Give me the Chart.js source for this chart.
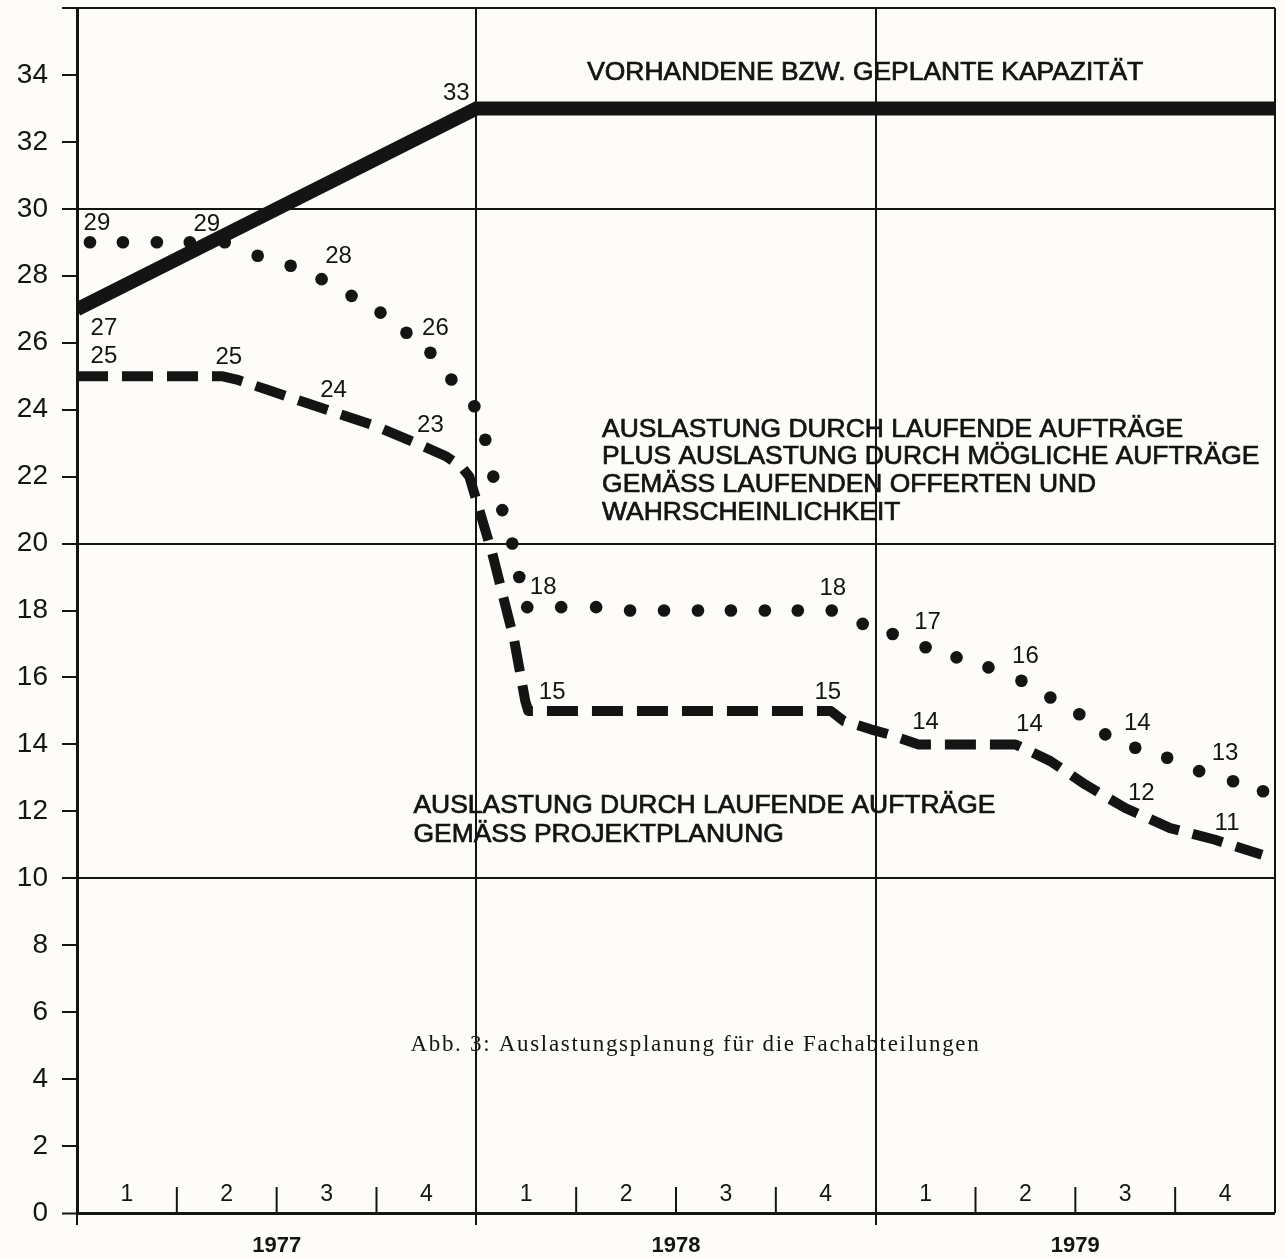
<!DOCTYPE html>
<html>
<head>
<meta charset="utf-8">
<script src="https://cdn.jsdelivr.net/npm/chart.js@4.4.1/dist/chart.umd.min.js"></script>
<style>
  html, body { margin: 0; padding: 0; background: #fdfcf9; }
  canvas { display: block; }
</style>
</head>
<body>
<canvas id="myChart" width="1286" height="1258"></canvas>
<script>
// x = quarters counted from the start of 1977 (0 .. 12)
var quarterLabels = ['1', '2', '3', '4', '1', '2', '3', '4', '1', '2', '3', '4'];
var yearLabels = ['1977', '1978', '1979'];

// vorhandene bzw. geplante Kapazitaet
var capacityX = [0, 4, 12];
var capacityY = [27, 33, 33];

// laufende Auftraege gemaess Projektplanung (gestrichelt)
var plannedX = [0, 1.45, 1.6, 1.9, 2.2, 2.6, 3.0, 3.4, 3.7, 3.85, 3.93, 4.16, 4.38, 4.49, 4.52,
                7.55, 7.68, 7.95, 8.13, 8.43, 9.4, 9.75, 10.1, 10.5, 10.95, 11.4, 11.87];
var plannedY = [25, 25, 24.9, 24.6, 24.3, 23.9, 23.5, 23.0, 22.6, 22.3, 22.0, 19.7, 17.1, 15.3, 15.0,
                15.0, 14.7, 14.45, 14.3, 14.0, 14.0, 13.5, 12.8, 12.1, 11.5, 11.15, 10.7];

// plus moegliche Auftraege (gepunktet), one value per printed dot
var offersX = [0.13, 0.46, 0.80, 1.13, 1.48, 1.81, 2.14, 2.45, 2.75, 3.04, 3.30, 3.54, 3.75, 3.98,
               4.09, 4.17, 4.26, 4.36, 4.43, 4.51, 4.85, 5.20, 5.54, 5.88, 6.22, 6.55, 6.89, 7.22,
               7.56, 7.87, 8.17, 8.50, 8.81, 9.13, 9.46, 9.75, 10.04, 10.30, 10.60, 10.92, 11.24,
               11.58, 11.88];
var offersY = [29, 29, 29, 29, 29, 28.6, 28.3, 27.9, 27.4, 26.9, 26.3, 25.7, 24.9, 24.1,
               23.1, 22.0, 21.0, 20.0, 19.0, 18.1, 18.1, 18.1, 18.0, 18.0, 18.0, 18.0, 18.0, 18.0,
               18.0, 17.6, 17.3, 16.9, 16.6, 16.3, 15.9, 15.4, 14.9, 14.3, 13.9, 13.6, 13.2,
               12.9, 12.6];

// printed numbers next to the curves
var numberText = ['33', '29', '29', '28', '26', '27', '25', '25', '24', '23',
                  '18', '18', '17', '16', '14', '13', '15', '15', '14', '14', '12', '11'];
var numberX = [3.80, 0.20, 1.30, 2.62, 3.59, 0.27, 0.27, 1.52, 2.57, 3.54,
               4.67, 7.57, 8.52, 9.50, 10.62, 11.50, 4.76, 7.52, 8.50, 9.54, 10.66, 11.52];
var numberY = [33.46, 29.58, 29.55, 28.59, 26.44, 26.44, 25.58, 25.55, 24.59, 23.54,
               18.70, 18.67, 17.66, 16.64, 14.64, 13.74, 15.54, 15.54, 14.67, 14.61, 12.55, 11.65];

// text blocks: lines, left edge, right edge of first line, centre line heights
var textBlocks = [
  { lines: ['VORHANDENE BZW. GEPLANTE KAPAZITÄT'], x0: 5.11, x1: 10.68, ys: [34.06] },
  { lines: ['AUSLASTUNG DURCH LAUFENDE AUFTRÄGE', 'PLUS AUSLASTUNG DURCH MÖGLICHE AUFTRÄGE',
            'GEMÄSS LAUFENDEN OFFERTEN UND', 'WAHRSCHEINLICHKEIT'],
    x0: 5.26, x1: 11.08, ys: [23.39, 22.59, 21.75, 20.91] },
  { lines: ['AUSLASTUNG DURCH LAUFENDE AUFTRÄGE', 'GEMÄSS PROJEKTPLANUNG'],
    x0: 3.37, x1: 9.20, ys: [12.16, 11.29] }
];
var caption = { text: 'Abb. 3: Auslastungsplanung für die Fachabteilungen', x0: 3.34, x1: 9.05, y: 5.02 };

var ink = '#141414';

function pts(xs, ys) {
  return xs.map(function (x, i) { return { x: x, y: ys[i] }; });
}

function fitText(ctx, text, x, y, scale) {
  ctx.save();
  ctx.translate(x, y);
  ctx.scale(scale, 1);
  ctx.fillText(text, 0, 0);
  ctx.strokeText(text, 0, 0);
  ctx.restore();
}

var paper = {
  id: 'paper',
  beforeDraw: function (chart) {
    var ctx = chart.ctx;
    ctx.save();
    ctx.fillStyle = '#fdfcf9';
    ctx.fillRect(0, 0, chart.width, chart.height);
    ctx.restore();
  }
};

var labels = {
  id: 'labels',
  afterDatasetsDraw: function (chart) {
    var ctx = chart.ctx;
    var xs = chart.scales.x, ys = chart.scales.y;
    var base = ys.getPixelForValue(0);
    ctx.save();
    ctx.fillStyle = ink;
    ctx.strokeStyle = ink;

    // quarter ticks and numbers along the bottom
    ctx.lineWidth = 2;
    for (var q = 1; q < 12; q++) {
      if (q % 4 === 0) continue;
      var px = xs.getPixelForValue(q);
      ctx.beginPath();
      ctx.moveTo(px, base);
      ctx.lineTo(px, base - 26);
      ctx.stroke();
    }
    ctx.font = '23px "Liberation Sans", Arial, sans-serif';
    ctx.textAlign = 'center';
    ctx.textBaseline = 'middle';
    quarterLabels.forEach(function (t, i) {
      ctx.fillText(t, xs.getPixelForValue(i + 0.5), base - 18);
    });

    // numbers on the curves
    ctx.font = '24px "Liberation Sans", Arial, sans-serif';
    numberText.forEach(function (t, i) {
      ctx.fillText(t, xs.getPixelForValue(numberX[i]), ys.getPixelForValue(numberY[i]));
    });

    // text blocks
    ctx.textAlign = 'left';
    ctx.lineWidth = 0.7;
    ctx.font = '25px "Liberation Sans", Arial, sans-serif';
    textBlocks.forEach(function (b) {
      var left = xs.getPixelForValue(b.x0);
      var w = xs.getPixelForValue(b.x1) - left;
      var s = w / ctx.measureText(b.lines[0]).width;
      b.lines.forEach(function (line, i) {
        fitText(ctx, line, left, ys.getPixelForValue(b.ys[i]), s);
      });
    });

    // caption, letter spaced serif
    ctx.font = '23px "Liberation Serif", "DejaVu Serif", serif';
    var cl = xs.getPixelForValue(caption.x0);
    var cw = xs.getPixelForValue(caption.x1) - cl;
    var extra = (cw - ctx.measureText(caption.text).width) / caption.text.length;
    ctx.letterSpacing = Math.max(0, extra).toFixed(2) + 'px';
    ctx.fillText(caption.text, cl, ys.getPixelForValue(caption.y));
    ctx.restore();
  }
};

var chart = new Chart(document.getElementById('myChart').getContext('2d'), {
  type: 'scatter',
  data: {
    datasets: [{
      label: 'Kapazität',
      data: pts(capacityX, capacityY),
      showLine: true,
      borderColor: ink,
      borderWidth: 14,
      borderCapStyle: 'butt',
      borderJoinStyle: 'miter',
      pointRadius: 0
    }, {
      label: 'Projektplanung',
      data: pts(plannedX, plannedY),
      showLine: true,
      borderColor: ink,
      borderWidth: 10,
      borderDash: [31, 14],
      borderJoinStyle: 'round',
      pointRadius: 0
    }, {
      label: 'mögliche Aufträge',
      data: pts(offersX, offersY),
      showLine: false,
      pointRadius: 6.3,
      pointBorderWidth: 0,
      pointBackgroundColor: ink
    }]
  },
  options: {
    responsive: false,
    animation: false,
    layout: { padding: { top: 8, right: 11, left: 0, bottom: 0 } },
    plugins: { legend: { display: false }, tooltip: { enabled: false } },
    scales: {
      x: {
        type: 'linear',
        min: 0,
        max: 12,
        afterBuildTicks: function (axis) {
          axis.ticks = [0, 2, 4, 6, 8, 10, 12].map(function (v) { return { value: v }; });
        },
        afterFit: function (s) { s.height = 45; s.paddingLeft = 0; s.paddingRight = 0; },
        ticks: {
          autoSkip: false,
          maxRotation: 0,
          padding: 8,
          color: ink,
          font: { family: '"Liberation Sans", Arial, sans-serif', size: 22, weight: 'bold' },
          callback: function (v) { return v % 4 === 2 ? yearLabels[(v - 2) / 4] : ''; }
        },
        grid: {
          color: function (c) { return c.tick && c.tick.value % 4 === 0 ? ink : 'transparent'; },
          tickColor: function (c) { return c.tick && c.tick.value % 4 === 0 && c.tick.value < 12 ? ink : 'transparent'; },
          lineWidth: 2,
          tickLength: 12,
          tickWidth: 2
        },
        border: { display: false }
      },
      y: {
        min: 0,
        max: 36,
        afterFit: function (s) { s.width = 77; s.paddingTop = 0; s.paddingBottom = 0; },
        ticks: {
          stepSize: 2,
          padding: 14,
          color: ink,
          font: { family: '"Liberation Sans", Arial, sans-serif', size: 28 },
          callback: function (v) { return v === 36 ? '' : v; }
        },
        grid: {
          color: function (c) { return c.tick && [0, 10, 20, 30, 36].indexOf(c.tick.value) >= 0 ? ink : 'transparent'; },
          tickColor: ink,
          lineWidth: function (c) { return c.tick && c.tick.value === 0 ? 3 : 2; },
          tickLength: 15,
          tickWidth: 2
        },
        border: { display: true, color: ink, width: 3 }
      }
    }
  },
  plugins: [paper, labels]
});
</script>
</body>
</html>
